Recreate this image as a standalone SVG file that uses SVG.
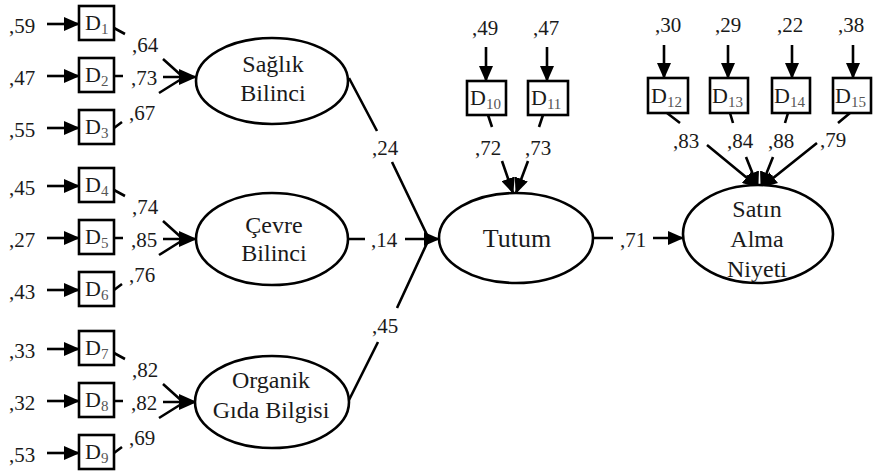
<svg xmlns="http://www.w3.org/2000/svg" width="873" height="475" viewBox="0 0 873 475" font-family="Liberation Serif, DejaVu Serif, serif">
<style>
.ln{stroke:#000;stroke-width:2.6;fill:none}
.el{fill:#fff;stroke:#000;stroke-width:2.6}
.bx{fill:#fff;stroke:#000;stroke-width:2.6}
.lb{font-size:21px;fill:#1a1a1a}
.dl{font-size:22px;fill:#1a1a1a}
.sb{font-size:15px;fill:#555}
.nt{font-size:24px;fill:#1a1a1a;text-anchor:middle}
</style>
<defs>
<marker id="ah" markerUnits="userSpaceOnUse" markerWidth="16" markerHeight="14" refX="15" refY="7" orient="auto"><path d="M0,0 L16,7 L0,14 z" fill="#000"/></marker>
<marker id="ahb" markerUnits="userSpaceOnUse" markerWidth="18" markerHeight="16" refX="17" refY="8" orient="auto"><path d="M0,0 L18,8 L0,16 z" fill="#000"/></marker>
</defs>

<g id="connectors">
  <path class="ln" marker-end="url(#ah)" d="M47,24 L79,24"/>
  <path class="ln" marker-end="url(#ah)" d="M47,76 L79,76"/>
  <path class="ln" marker-end="url(#ah)" d="M47,128 L79,128"/>
  <path class="ln" marker-end="url(#ah)" d="M47,186 L79,186"/>
  <path class="ln" marker-end="url(#ah)" d="M47,238 L79,238"/>
  <path class="ln" marker-end="url(#ah)" d="M47,290 L79,290"/>
  <path class="ln" marker-end="url(#ah)" d="M47,349 L79,349"/>
  <path class="ln" marker-end="url(#ah)" d="M47,401 L79,401"/>
  <path class="ln" marker-end="url(#ah)" d="M47,453 L79,453"/>
  <path class="ln" d="M114,28 L125,34 M163,59 L183,77"/>
  <path class="ln" marker-end="url(#ahb)" d="M114,76 L123,76 M163,77 L196,77"/>
  <path class="ln" d="M114,128 L122,122 M159,93 L183,78"/>
  <path class="ln" d="M114,190 L125,196 M163,221 L183,239"/>
  <path class="ln" marker-end="url(#ahb)" d="M114,238 L123,238 M163,239 L196,239"/>
  <path class="ln" d="M114,290 L122,284 M159,255 L183,240"/>
  <path class="ln" d="M114,353 L125,359 M163,384 L183,402"/>
  <path class="ln" marker-end="url(#ahb)" d="M114,401 L123,401 M163,402 L196,402"/>
  <path class="ln" d="M114,453 L122,447 M159,418 L183,403"/>
  <path class="ln" d="M349,78 L377,131 M392,162 L428,237"/>
  <path class="ln" marker-end="url(#ah)" d="M348,239 L365,239 M405,239 L439,239"/>
  <path class="ln" d="M349,400 L378,342 M397,308 L428,241"/>
  <path class="ln" marker-end="url(#ah)" d="M593,238 L613,238 M653,238 L683,238"/>
  <path class="ln" marker-end="url(#ah)" d="M486,47 L486,81"/>
  <path class="ln" marker-end="url(#ah)" d="M547,47 L547,81"/>
  <path class="ln" marker-end="url(#ah)" d="M664,45 L664,78"/>
  <path class="ln" marker-end="url(#ah)" d="M728,45 L728,78"/>
  <path class="ln" marker-end="url(#ah)" d="M792,45 L792,78"/>
  <path class="ln" marker-end="url(#ah)" d="M853,45 L853,78"/>
  <path class="ln" marker-end="url(#ah)" d="M488,115 L492,127 M502,161 L513,193"/>
  <path class="ln" marker-end="url(#ah)" d="M543,115 L539,127 M528,161 L516,193"/>
  <path class="ln" marker-end="url(#ah)" d="M667,113 L680,123 M707,145 L758,187"/>
  <path class="ln" marker-end="url(#ah)" d="M730,113 L733,123 M746,157 L758,187"/>
  <path class="ln" marker-end="url(#ah)" d="M788,113 L785,123 M773,157 L761,187"/>
  <path class="ln" marker-end="url(#ah)" d="M850,113 L838,123 M817,143 L762,187"/>
</g>

<g id="labels" font-family="Liberation Serif, DejaVu Serif, serif">
  <text class="lb" x="9" y="33">,59</text>
  <text class="lb" x="9" y="85">,47</text>
  <text class="lb" x="9" y="137">,55</text>
  <text class="lb" x="9" y="195">,45</text>
  <text class="lb" x="9" y="247">,27</text>
  <text class="lb" x="9" y="299">,43</text>
  <text class="lb" x="9" y="358">,33</text>
  <text class="lb" x="9" y="410">,32</text>
  <text class="lb" x="9" y="462">,53</text>
  <text class="lb" x="132" y="52">,64</text>
  <text class="lb" x="131" y="85">,73</text>
  <text class="lb" x="129" y="120">,67</text>
  <text class="lb" x="132" y="214">,74</text>
  <text class="lb" x="131" y="247">,85</text>
  <text class="lb" x="129" y="282">,76</text>
  <text class="lb" x="132" y="377">,82</text>
  <text class="lb" x="131" y="410">,82</text>
  <text class="lb" x="129" y="445">,69</text>
  <text class="lb" x="372" y="155">,24</text>
  <text class="lb" x="371" y="247">,14</text>
  <text class="lb" x="372" y="333">,45</text>
  <text class="lb" x="620" y="247">,71</text>
  <text class="lb" x="472" y="35">,49</text>
  <text class="lb" x="533" y="35">,47</text>
  <text class="lb" x="475" y="155">,72</text>
  <text class="lb" x="525" y="155">,73</text>
  <text class="lb" x="655" y="32">,30</text>
  <text class="lb" x="715" y="32">,29</text>
  <text class="lb" x="777" y="32">,22</text>
  <text class="lb" x="838" y="32">,38</text>
  <text class="lb" x="673" y="148">,83</text>
  <text class="lb" x="727" y="148">,84</text>
  <text class="lb" x="768" y="148">,88</text>
  <text class="lb" x="820" y="147">,79</text>
</g>

<g id="D1"><rect class="bx" x="79" y="6" width="35" height="34"/><text class="dl" x="85" y="30">D<tspan class="sb" dy="4">1</tspan></text></g>
<g id="D2"><rect class="bx" x="79" y="58" width="35" height="34"/><text class="dl" x="85" y="82">D<tspan class="sb" dy="4">2</tspan></text></g>
<g id="D3"><rect class="bx" x="79" y="110" width="35" height="34"/><text class="dl" x="85" y="134">D<tspan class="sb" dy="4">3</tspan></text></g>
<g id="D4"><rect class="bx" x="79" y="168" width="35" height="34"/><text class="dl" x="85" y="192">D<tspan class="sb" dy="4">4</tspan></text></g>
<g id="D5"><rect class="bx" x="79" y="220" width="35" height="34"/><text class="dl" x="85" y="244">D<tspan class="sb" dy="4">5</tspan></text></g>
<g id="D6"><rect class="bx" x="79" y="272" width="35" height="34"/><text class="dl" x="85" y="296">D<tspan class="sb" dy="4">6</tspan></text></g>
<g id="D7"><rect class="bx" x="79" y="331" width="35" height="34"/><text class="dl" x="85" y="355">D<tspan class="sb" dy="4">7</tspan></text></g>
<g id="D8"><rect class="bx" x="79" y="383" width="35" height="34"/><text class="dl" x="85" y="407">D<tspan class="sb" dy="4">8</tspan></text></g>
<g id="D9"><rect class="bx" x="79" y="435" width="35" height="34"/><text class="dl" x="85" y="459">D<tspan class="sb" dy="4">9</tspan></text></g>

<g id="D10"><rect class="bx" x="467" y="81" width="39" height="34"/><text class="dl" x="470" y="105">D<tspan class="sb" dy="4">10</tspan></text></g>
<g id="D11"><rect class="bx" x="528" y="81" width="40" height="34"/><text class="dl" x="531" y="105">D<tspan class="sb" dy="4">11</tspan></text></g>
<g id="D12"><rect class="bx" x="648" y="78" width="40" height="35"/><text class="dl" x="651" y="103">D<tspan class="sb" dy="4">12</tspan></text></g>
<g id="D13"><rect class="bx" x="710" y="78" width="38" height="35"/><text class="dl" x="712" y="103">D<tspan class="sb" dy="4">13</tspan></text></g>
<g id="D14"><rect class="bx" x="772" y="78" width="38" height="35"/><text class="dl" x="774" y="103">D<tspan class="sb" dy="4">14</tspan></text></g>
<g id="D15"><rect class="bx" x="833" y="78" width="38" height="35"/><text class="dl" x="835" y="103">D<tspan class="sb" dy="4">15</tspan></text></g>

<g id="saglik"><ellipse class="el" cx="272" cy="81" rx="76" ry="43"/><text class="nt" x="273" y="72">Sağlık</text><text class="nt" x="273" y="101">Bilinci</text></g>
<g id="cevre"><ellipse class="el" cx="272" cy="239" rx="76" ry="46"/><text class="nt" x="274" y="233">Çevre</text><text class="nt" x="274" y="261">Bilinci</text></g>
<g id="organik"><ellipse class="el" cx="272" cy="402" rx="77" ry="46"/><text class="nt" x="271" y="388">Organik</text><text class="nt" x="271" y="418">Gıda Bilgisi</text></g>
<g id="tutum"><ellipse class="el" cx="516" cy="238" rx="77" ry="45"/><text class="nt" x="517" y="247" style="font-size:26px">Tutum</text></g>
<g id="satin"><ellipse class="el" cx="758" cy="234" rx="75" ry="49"/><text class="nt" x="757" y="217">Satın</text><text class="nt" x="757" y="247">Alma</text><text class="nt" x="757" y="277">Niyeti</text></g>
</svg>
